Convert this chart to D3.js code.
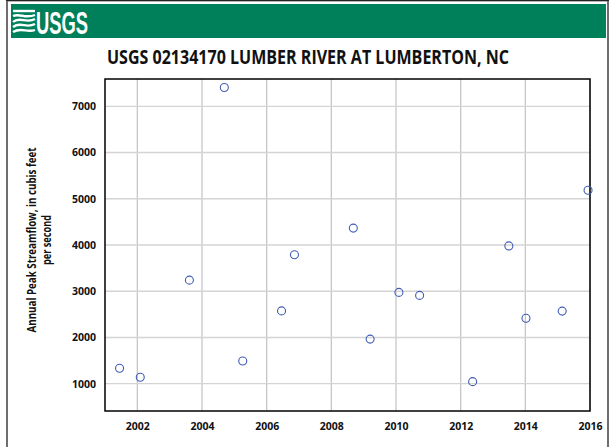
<!DOCTYPE html>
<html>
<head>
<meta charset="utf-8">
<script src="https://cdn.jsdelivr.net/npm/d3@7"></script>
<style>
  body { margin: 0; background: #fff; }
  text { font-family: "Open Sans", "Liberation Sans", sans-serif; }
</style>
</head>
<body>
<div id="chart"></div>
<script>
// water year (decimal date) of each annual peak
var peakDates = [2001.45, 2002.09, 2003.61, 2004.69, 2005.26, 2006.46, 2006.86, 2008.68,
                 2009.20, 2010.09, 2010.73, 2012.37, 2013.49, 2014.02, 2015.14, 2015.94];
// annual peak streamflow, cfs
var peakFlows = [1335, 1140, 3240, 7405, 1490, 2575, 3790, 4365,
                 1965, 2975, 2910, 1045, 3980, 2415, 2570, 5185];
var xTicks = [2002, 2004, 2006, 2008, 2010, 2012, 2014, 2016];
var yTicks = [1000, 2000, 3000, 4000, 5000, 6000, 7000];
var chartTitle = "USGS 02134170 LUMBER RIVER AT LUMBERTON, NC";
var yTitle = ["Annual Peak Streamflow, in cubis feet", "per second"];

var W = 611, H = 447;
var margin = {top: 79, right: 21, bottom: 36, left: 105};
var width = W - margin.left - margin.right,
    height = H - margin.top - margin.bottom;

var svg = d3.select("#chart").append("svg")
    .attr("width", W)
    .attr("height", H);

// outer frame
svg.append("rect")
    .attr("x", 7).attr("y", 0.5)
    .attr("width", 601).attr("height", 460)
    .style("fill", "none")
    .style("stroke", "#6e6e6e")
    .style("stroke-width", 2);
svg.append("line")
    .attr("x1", 6).attr("x2", 609).attr("y1", 0.5).attr("y2", 0.5)
    .style("stroke", "#222").style("stroke-width", 1);

// green header band
svg.append("rect")
    .attr("x", 11).attr("y", 4)
    .attr("width", 595).attr("height", 34)
    .style("fill", "#00805a");

// wave logo
var logo = svg.append("g").attr("transform", "translate(13,10)");
var waves = [
  "M0,1 L22,1",
  "M0,6 C7,3 12,9 22,5",
  "M0,12 C6,6 14,14 22,9",
  "M0,17 C8,11 13,19 22,14",
  "M0,22 C8,17 14,23 22,20"
];
logo.selectAll("path").data(waves).enter().append("path")
    .attr("d", function(d) { return d; })
    .style("fill", "none")
    .style("stroke", "#fff")
    .style("stroke-width", 2.4);
svg.append("text")
    .attr("x", 36).attr("y", 34)
    .attr("textLength", 52)
    .attr("lengthAdjust", "spacingAndGlyphs")
    .style("font-family", "'Liberation Sans Narrow', 'Liberation Sans', sans-serif")
    .style("font-weight", "bold")
    .style("font-size", "31px")
    .style("fill", "#fff")
    .text("USGS");

// title
svg.append("text")
    .attr("x", 308).attr("y", 64)
    .attr("text-anchor", "middle")
    .attr("textLength", 402)
    .attr("lengthAdjust", "spacingAndGlyphs")
    .style("font-weight", "bold")
    .style("font-size", "19px")
    .style("fill", "#111")
    .text(chartTitle);

var g = svg.append("g")
    .attr("transform", "translate(" + margin.left + "," + margin.top + ")");

var xScale = d3.scaleLinear()
    .domain([2001, 2016])
    .range([0, width]);

var yScale = d3.scaleLinear()
    .domain([410, 7590])
    .range([height, 0]);

// grid lines
g.append("g").attr("class", "x grid")
    .selectAll("line").data(xTicks).enter().append("line")
    .attr("x1", function(d) { return xScale(d); })
    .attr("x2", function(d) { return xScale(d); })
    .attr("y1", 0).attr("y2", height)
    .style("stroke", "#c6c6c6").style("stroke-width", 1.3);

g.append("g").attr("class", "y grid")
    .selectAll("line").data(yTicks).enter().append("line")
    .attr("x1", 0).attr("x2", width)
    .attr("y1", function(d) { return yScale(d); })
    .attr("y2", function(d) { return yScale(d); })
    .style("stroke", "#d4d4d4").style("stroke-width", 1.3);

// axes (labels only, border drawn below)
var xAxis = g.append("g")
    .attr("class", "x axis")
    .attr("transform", "translate(0," + height + ")")
    .call(d3.axisBottom(xScale).tickValues(xTicks).tickFormat(d3.format("d")).tickSize(0).tickPadding(12));
var yAxis = g.append("g")
    .attr("class", "y axis")
    .call(d3.axisLeft(yScale).tickValues(yTicks).tickFormat(d3.format("d")).tickSize(0).tickPadding(9));

[xAxis, yAxis].forEach(function(a) {
  a.select(".domain").remove();
  a.selectAll("text")
    .style("font-family", "'Open Sans', sans-serif")
    .style("font-weight", "bold")
    .style("font-size", "10.5px")
    .style("fill", "#111");
});

// plot border
g.append("rect")
    .attr("x", 0).attr("y", 0)
    .attr("width", width).attr("height", height)
    .style("fill", "none")
    .style("stroke", "#000")
    .style("stroke-width", 1.5);

// peak points
var points = peakDates.map(function(d, i) { return {x: d, y: peakFlows[i]}; });
g.selectAll(".dot")
    .data(points)
    .enter().append("circle")
    .attr("class", "dot")
    .attr("cx", function(d) { return xScale(d.x); })
    .attr("cy", function(d) { return yScale(d.y); })
    .attr("r", 4)
    .style("fill", "none")
    .style("stroke", "#3f5bb5")
    .style("stroke-width", 1.1);

// y axis title
var yTitleLen = [185, 50];
var yt = svg.append("text")
    .attr("transform", "translate(36," + (margin.top + height / 2 - 5) + ") rotate(-90)")
    .attr("text-anchor", "middle")
    .style("font-weight", "bold")
    .style("font-size", "11.5px")
    .style("fill", "#111");
yt.selectAll("tspan").data(yTitle).enter().append("tspan")
    .attr("x", 0)
    .attr("dy", function(d, i) { return i === 0 ? 0 : 15; })
    .attr("textLength", function(d, i) { return yTitleLen[i]; })
    .attr("lengthAdjust", "spacingAndGlyphs")
    .text(function(d) { return d; });
</script>
</body>
</html>
